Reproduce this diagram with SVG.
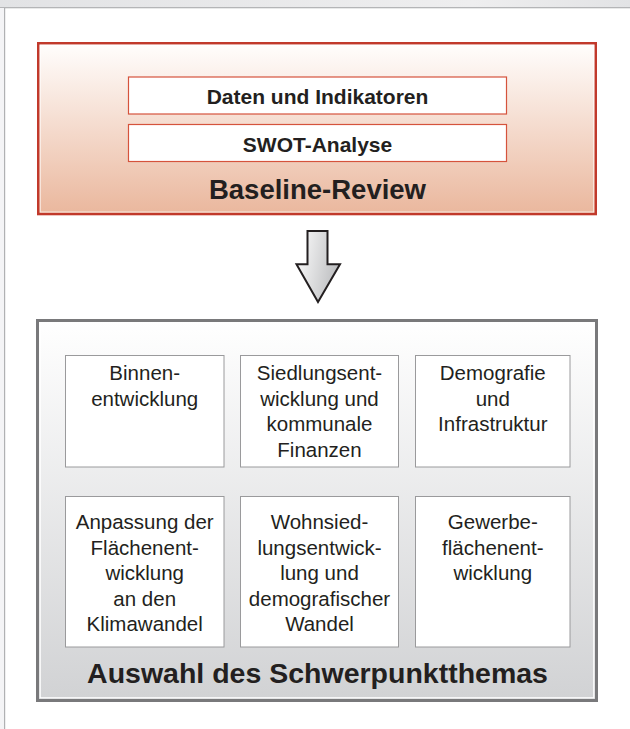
<svg xmlns="http://www.w3.org/2000/svg" width="630" height="729" viewBox="0 0 630 729">
<defs>
<linearGradient id="band" x1="0" y1="0" x2="1" y2="0">
<stop offset="0" stop-color="#e2e3e5"/>
<stop offset="0.75" stop-color="#eeeeef"/>
<stop offset="1" stop-color="#e2e3e5"/>
</linearGradient>
<linearGradient id="redfill" x1="0" y1="0" x2="0" y2="1">
<stop offset="0" stop-color="#fffefd"/>
<stop offset="1" stop-color="#eab79d"/>
</linearGradient>
<linearGradient id="grayfill" x1="0" y1="0" x2="0" y2="1">
<stop offset="0" stop-color="#ffffff"/>
<stop offset="1" stop-color="#d1d2d4"/>
</linearGradient>
<linearGradient id="arrowfill" x1="0" y1="0" x2="1" y2="0.3">
<stop offset="0" stop-color="#ffffff"/>
<stop offset="1" stop-color="#bfc0c2"/>
</linearGradient>
<style>
.t{font-family:"Liberation Sans",Arial,sans-serif;fill:#231f20;text-anchor:middle}
.item{font-size:20.5px}
.sub{font-size:21px;font-weight:bold}
.title{font-weight:bold}
.box{fill:#ffffff;stroke:#9a9a9c;stroke-width:1}
.rbox{fill:#ffffff;stroke:#d5533c;stroke-width:1.2}
</style>
</defs>
<rect x="0" y="0" width="630" height="729" fill="#ffffff"/>
<rect x="0" y="0" width="630" height="8" fill="url(#band)"/>
<rect x="0" y="7" width="630" height="1.3" fill="#b4b5b7"/>
<rect x="0" y="8" width="4" height="721" fill="#f4f4f6"/>
<rect x="4" y="8" width="1.2" height="721" fill="#b0b1b3"/>

<g id="baseline-review">
<rect x="38.25" y="43.25" width="557.5" height="170.8" fill="url(#redfill)" stroke="#c1392b" stroke-width="2.5"/>
<rect x="40.3" y="45.3" width="553.4" height="166.7" fill="none" stroke="#ffffff" stroke-opacity="0.7" stroke-width="1"/>
<text class="t title" x="317.5" y="199" font-size="27.5">Baseline-Review</text>
</g>
<g id="daten">
<rect class="rbox" x="128.5" y="77" width="378" height="37"/>
<text class="t sub" x="317.5" y="103.5">Daten und Indikatoren</text>
</g>
<g id="swot">
<rect class="rbox" x="128.5" y="124.5" width="378" height="37"/>
<text class="t sub" x="317.5" y="151.5">SWOT-Analyse</text>
</g>

<g id="connectors">
<polygon points="307.5,231 327.5,231 327.5,264.3 340,264.3 318,302 296.5,264.3 307.5,264.3" fill="url(#arrowfill)" stroke="#231f20" stroke-width="2" stroke-linejoin="miter"/>
</g>

<g id="schwerpunkt">
<rect x="37.5" y="320.5" width="559" height="380" fill="url(#grayfill)" stroke="#79797b" stroke-width="3"/>
<rect x="40.2" y="323.2" width="553.6" height="374.6" fill="none" stroke="#ffffff" stroke-width="1.2"/>
<text class="t title" x="317.5" y="683" font-size="28.5">Auswahl des Schwerpunktthemas</text>
</g>

<g id="binnen">
<rect class="box" x="65.5" y="355.5" width="158.5" height="111.5"/>
<text class="t item" x="144.7" y="380">Binnen-</text>
<text class="t item" x="144.7" y="405.5">entwicklung</text>
</g>
<g id="siedlung">
<rect class="box" x="240.5" y="355.5" width="158" height="111.5"/>
<text class="t item" x="319.5" y="380">Siedlungsent-</text>
<text class="t item" x="319.5" y="405.5">wicklung und</text>
<text class="t item" x="319.5" y="431">kommunale</text>
<text class="t item" x="319.5" y="456.5">Finanzen</text>
</g>
<g id="demografie">
<rect class="box" x="415.5" y="355.5" width="154.5" height="111.5"/>
<text class="t item" x="492.8" y="380">Demografie</text>
<text class="t item" x="492.8" y="405.5">und</text>
<text class="t item" x="492.8" y="431">Infrastruktur</text>
</g>
<g id="anpassung">
<rect class="box" x="65.5" y="496.5" width="158.5" height="150.5"/>
<text class="t item" x="144.7" y="529">Anpassung der</text>
<text class="t item" x="144.7" y="554.5">Flächenent-</text>
<text class="t item" x="144.7" y="580">wicklung</text>
<text class="t item" x="144.7" y="605.5">an den</text>
<text class="t item" x="144.7" y="631">Klimawandel</text>
</g>
<g id="wohnsiedlung">
<rect class="box" x="240.5" y="496.5" width="158" height="150.5"/>
<text class="t item" x="319.5" y="529">Wohnsied-</text>
<text class="t item" x="319.5" y="554.5">lungsentwick-</text>
<text class="t item" x="319.5" y="580">lung und</text>
<text class="t item" x="319.5" y="605.5">demografischer</text>
<text class="t item" x="319.5" y="631">Wandel</text>
</g>
<g id="gewerbe">
<rect class="box" x="415.5" y="496.5" width="154.5" height="150.5"/>
<text class="t item" x="492.8" y="529">Gewerbe-</text>
<text class="t item" x="492.8" y="554.5">flächenent-</text>
<text class="t item" x="492.8" y="580">wicklung</text>
</g>
</svg>
